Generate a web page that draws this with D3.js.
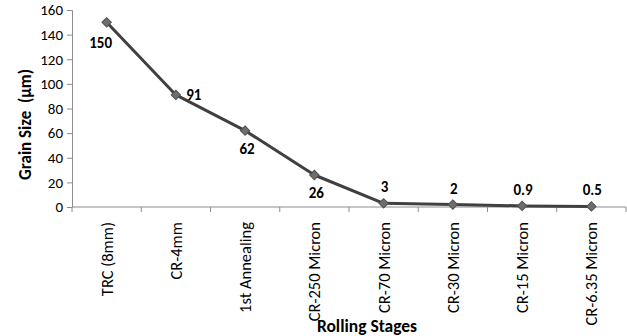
<!DOCTYPE html>
<html>
<head>
<meta charset="utf-8">
<script src="https://cdn.jsdelivr.net/npm/d3@7"></script>
<style>
  html, body { margin: 0; padding: 0; background: #fff; }
  svg { display: block; }
  text { font-family: Carlito, Calibri, Lato, "Liberation Sans", sans-serif; fill: #000; white-space: pre; }
</style>
</head>
<body>
<svg id="chart" width="627" height="336"></svg>
<script>
const categories = ["TRC (8mm)", "CR-4mm", "1st Annealing", "CR-250 Micron", "CR-70 Micron", "CR-30 Micron", "CR-15 Micron", "CR-6.35 Micron"];
const grainSize = [150, 91, 62, 26, 3, 2, 0.9, 0.5];
const labelText = ["150", "91", "62", "26", "3", "2", "0.9", "0.5"];
const labelPos = ["belowLeft", "right", "below", "below", "above", "above", "above", "above"];
const yTicks = [0, 20, 40, 60, 80, 100, 120, 140, 160];

(function () {
const svg = d3.select("#chart");
const mLeft = 72, mRight = 626, mTop = 10, mBottom = 207;

const x = d3.scaleBand().domain(categories).range([mLeft, mRight]).padding(0);
const y = d3.scaleLinear().domain([0, 160]).range([mBottom, mTop]);
const cx = d => x(d) + x.bandwidth() / 2;

const axisColor = "#8c8c8c";

// Y axis
const yAxis = svg.append("g").attr("transform", `translate(${mLeft},0)`)
  .call(d3.axisLeft(y).tickValues(yTicks).tickSize(5).tickPadding(4));
yAxis.select(".domain").attr("stroke", axisColor);
yAxis.selectAll(".tick line").attr("stroke", axisColor);
yAxis.selectAll(".tick text").attr("font-size", 15).attr("fill", "#000")
  .style("font-family", "Carlito, Calibri, Lato, sans-serif");

// X axis: line plus ticks at band boundaries
const g = svg.append("g");
g.append("line").attr("x1", mLeft).attr("x2", mRight).attr("y1", y(0)).attr("y2", y(0))
  .attr("stroke", axisColor);
const bounds = categories.map(c => x(c)).concat([mRight]);
g.selectAll("line.xt").data(bounds).join("line").attr("class", "xt")
  .attr("x1", d => d).attr("x2", d => d).attr("y1", y(0)).attr("y2", y(0) + 5)
  .attr("stroke", axisColor);

// category labels rotated
g.selectAll("text.cat").data(categories).join("text").attr("class", "cat")
  .attr("transform", d => `translate(${cx(d) + 6},${222}) rotate(-90)`)
  .attr("text-anchor", "end")
  .attr("font-size", 16.5)
  .text(d => d);

// line
const pts = categories.map((c, i) => [cx(c), y(grainSize[i])]);
svg.append("path").datum(pts)
  .attr("d", d3.line())
  .attr("fill", "none").attr("stroke", "#404040").attr("stroke-width", 3)
  .attr("stroke-linejoin", "round");

// markers (diamonds)
svg.selectAll("path.mk").data(pts).join("path").attr("class", "mk")
  .attr("d", d3.symbol(d3.symbolSquare, 44))
  .attr("transform", d => `translate(${d[0]},${d[1]}) rotate(45)`)
  .attr("fill", "#6e6e6e").attr("stroke", "#505050").attr("stroke-width", 1);

// data labels
const off = {
  belowLeft: [-6, 26],
  right: [18, 5],
  below: [2, 23],
  above: [1, -11]
};
svg.selectAll("text.lbl").data(pts).join("text").attr("class", "lbl")
  .attr("x", (d, i) => d[0] + off[labelPos[i]][0])
  .attr("y", (d, i) => d[1] + off[labelPos[i]][1])
  .attr("text-anchor", "middle")
  .attr("font-size", 15).attr("font-weight", "bold")
  .text((d, i) => labelText[i]);

// axis titles
svg.append("text")
  .attr("transform", `translate(31,${(mTop + mBottom) / 2 + 16}) rotate(-90)`)
  .attr("text-anchor", "middle").attr("font-size", 17).attr("font-weight", "bold")
  .text("Grain Size  (\u03bcm)");
svg.append("text")
  .attr("x", 367).attr("y", 332)
  .attr("text-anchor", "middle").attr("font-size", 17.5).attr("font-weight", "bold")
  .text("Rolling Stages");
})();
</script>
</body>
</html>
